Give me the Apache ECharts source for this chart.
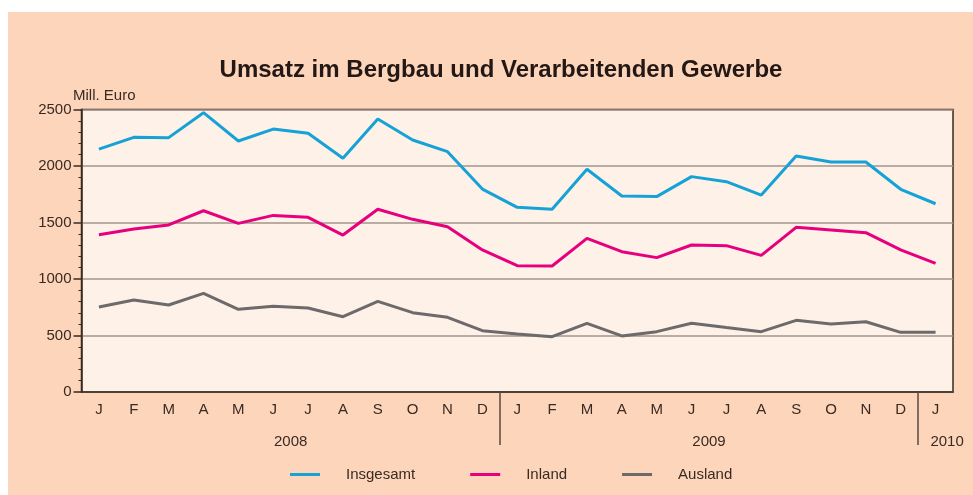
<!DOCTYPE html>
<html><head><meta charset="utf-8">
<script src="https://cdn.jsdelivr.net/npm/echarts@6/dist/echarts.min.js"></script>
<style>html,body{margin:0;padding:0;background:#fff}#c{width:973px;height:495px}</style>
</head><body><div id="c"></div>
<script>
const months = ['J','F','M','A','M','J','J','A','S','O','N','D','J','F','M','A','M','J','J','A','S','O','N','D','J'];
const yearNames = ['2008', '2009', '2010'];
const yearLabelPos = [6, 18, 24.83];
const yearBreaks = [12, 24];
const insgesamt = [2150, 2254, 2251, 2472, 2221, 2327, 2289, 2068, 2416, 2230, 2127, 1796, 1634, 1617, 1971, 1735, 1729, 1906, 1861, 1743, 2088, 2035, 2035, 1794, 1666];
const inland = [1392, 1442, 1478, 1604, 1492, 1563, 1546, 1389, 1617, 1528, 1463, 1257, 1118, 1115, 1360, 1242, 1189, 1301, 1295, 1209, 1457, 1434, 1410, 1257, 1139];
const ausland = [752, 814, 770, 873, 732, 758, 743, 666, 802, 702, 661, 543, 513, 490, 608, 496, 534, 608, 570, 534, 634, 602, 622, 528, 528];
const yTicks = {min:0, max:2500, interval:500};

const font = 'Liberation Sans, Arial, sans-serif';
const dark = '#3a2a22';
const chart = echarts.init(document.getElementById('c'));
chart.setOption({
  animation: false,
  textStyle: {fontFamily: font},
  graphic: [
    {type:'rect', left:8, top:12, shape:{width:965, height:483}, style:{fill:'#fdd5bb'}, z:-10},
    {type:'text', left:73, top:88, style:{text:'Mill. Euro', font:'15px ' + font, fill:dark}}
  ],
  title: {
    text: 'Umsatz im Bergbau und Verarbeitenden Gewerbe',
    left: 496, top: 53, textAlign: 'center',
    textStyle: {fontSize: 24, fontWeight: 'bold', color: '#231815', fontFamily: font}
  },
  legend: {
    left: 285, top: 462,
    itemWidth: 30, itemHeight: 3, itemGap: 55,
    icon: 'rect',
    textStyle: {fontSize: 15, color: dark, padding: [0,0,0,21], fontFamily: font},
    data: ['Insgesamt','Inland','Ausland']
  },
  grid: {
    left: 81.5, right: 20, top: 109.5, bottom: 103,
    show: true, backgroundColor: '#fdf1e8', borderColor: dark, borderWidth: 1.5
  },
  xAxis: [{
    type: 'category', data: months, boundaryGap: true,
    axisLine: {lineStyle: {color: dark, width: 1.5}},
    axisTick: {show: false},
    axisLabel: {interval: 0, margin: 10, fontSize: 15, color: dark, fontFamily: font}
  }, {
    type: 'value', min: 0, max: months.length, position: 'bottom',
    axisLine: {show: false},
    splitLine: {show: false},
    axisTick: {show: true, length: 53, customValues: yearBreaks, lineStyle: {color: '#5a4a42', width: 1.5}},
    axisLabel: {
      margin: 42, fontSize: 15, color: dark, fontFamily: font,
      customValues: yearLabelPos,
      formatter: (v) => { const k = yearLabelPos.findIndex(p => Math.abs(p - v) < 0.01); return k >= 0 ? yearNames[k] : ''; }
    }
  }],
  yAxis: {
    type: 'value', min: yTicks.min, max: yTicks.max, interval: yTicks.interval,
    axisLine: {show: true, lineStyle: {color: dark, width: 1.5}},
    axisTick: {show: true, length: 8, lineStyle: {color: dark, width: 1.5}},
    minorTick: {show: true, splitNumber: 5, length: 3, lineStyle: {color: dark, width: 1}},
    axisLabel: {fontSize: 15, color: dark, margin: 10, fontFamily: font, formatter: (v) => String(v)},
    splitLine: {lineStyle: {color: '#a0948c', width: 1.5}}
  },
  series: [
    {name: 'Insgesamt', type: 'line', data: insgesamt, symbol: 'none', lineStyle: {width: 3, color: '#16a2d6'}, itemStyle: {color: '#16a2d6'}},
    {name: 'Inland', type: 'line', data: inland, symbol: 'none', lineStyle: {width: 3, color: '#e6007e'}, itemStyle: {color: '#e6007e'}},
    {name: 'Ausland', type: 'line', data: ausland, symbol: 'none', lineStyle: {width: 3, color: '#6c6a6a'}, itemStyle: {color: '#6c6a6a'}}
  ]
});
</script></body></html>
